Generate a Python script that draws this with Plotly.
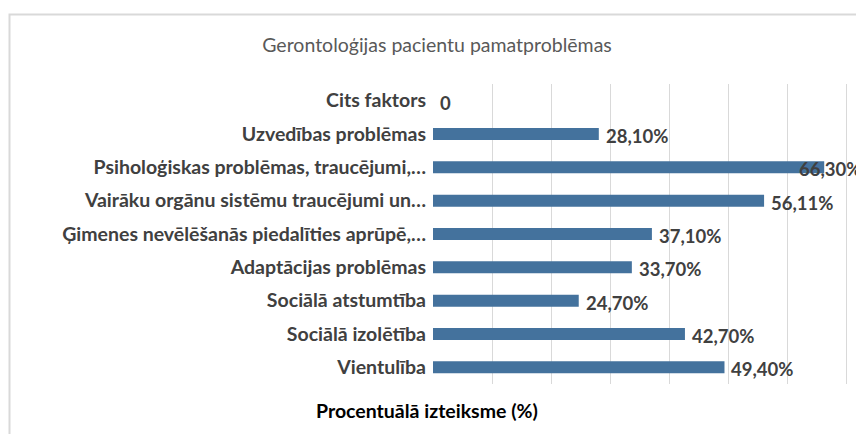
import plotly.graph_objects as go

# Kategorijas (no apakšas uz augšu, kā Excel joslu diagrammā)
categories = [
    "Vientulība",
    "Sociālā izolētība",
    "Sociālā atstumtība",
    "Adaptācijas problēmas",
    "Ģimenes nevēlēšanās piedalīties aprūpē,…",
    "Vairāku orgānu sistēmu traucējumi un…",
    "Psiholoģiskas problēmas, traucējumi,…",
    "Uzvedības problēmas",
    "Cits faktors",
]
values = [49.40, 42.70, 24.70, 33.70, 37.10, 56.11, 66.30, 28.10, 0]
value_labels = ["49,40%", "42,70%", "24,70%", "33,70%", "37,10%", "56,11%", "66,30%", "28,10%", "0"]

FONT = "Lato, 'Open Sans', sans-serif"
BAR = "#44729d"
TXT = "#404040"

fig = go.Figure()
fig.add_trace(
    go.Bar(
        x=values,
        y=categories,
        orientation="h",
        marker=dict(color=BAR, line=dict(width=0)),
        width=0.36,
        hoverinfo="x+y",
    )
)

# datu etiķetes pie joslu galiem
for cat, val, lab in zip(categories, values, value_labels):
    if val > 60:
        # Excel pārbīda etiķeti, lai tā ietilptu diagrammā
        fig.add_annotation(
            x=val, y=cat, text=lab, showarrow=False,
            xanchor="right", yanchor="middle", xshift=39, yshift=-2,
            font=dict(family=FONT, size=18.5, color=TXT, weight="bold"),
        )
    else:
        fig.add_annotation(
            x=val, y=cat, text=lab, showarrow=False,
            xanchor="left", yanchor="middle", xshift=5, yshift=-2,
            font=dict(family=FONT, size=18.5, color=TXT, weight="bold"),
        )

# ass nosaukums (novietots manuāli, kā oriģinālā)
fig.add_annotation(
    xref="paper", yref="paper", x=-0.0137, y=-0.087,
    text="Procentuālā izteiksme (%)", showarrow=False,
    xanchor="center", yanchor="middle",
    font=dict(family=FONT, size=19.5, color="#000000", weight="bold"),
)

# diagrammas rāmis
fig.add_shape(
    type="rect", xref="paper", yref="paper",
    x0=-0.9647, x1=1.05, y0=-0.25, y1=1.2317,
    line=dict(color="#d9d9d9", width=2), layer="below",
)

# lapai ir 8px body atkāpe, tāpēc malas ir nobīdītas par 8px
fig.update_layout(
    width=864,
    height=434,
    paper_bgcolor="white",
    plot_bgcolor="white",
    showlegend=False,
    margin=dict(l=425, r=0, t=76, b=58),
    title=dict(
        text="Gerontoloģijas pacientu pamatproblēmas",
        x=429 / 864, xref="container", xanchor="center",
        y=1 - 37 / 434, yref="container", yanchor="middle",
        font=dict(family=FONT, size=19.5, color="#595959"),
    ),
    xaxis=dict(
        range=[0, 74.4],
        dtick=10,
        showgrid=True,
        gridcolor="#d9d9d9",
        gridwidth=1,
        showticklabels=False,
        zeroline=False,
        showline=False,
        fixedrange=True,
    ),
    yaxis=dict(
        showgrid=False,
        zeroline=False,
        showline=False,
        ticks="",
        ticklabelstandoff=6,
        tickfont=dict(family=FONT, size=19.5, color=TXT, weight="bold"),
        fixedrange=True,
    ),
)

fig.write_html("out.html")
